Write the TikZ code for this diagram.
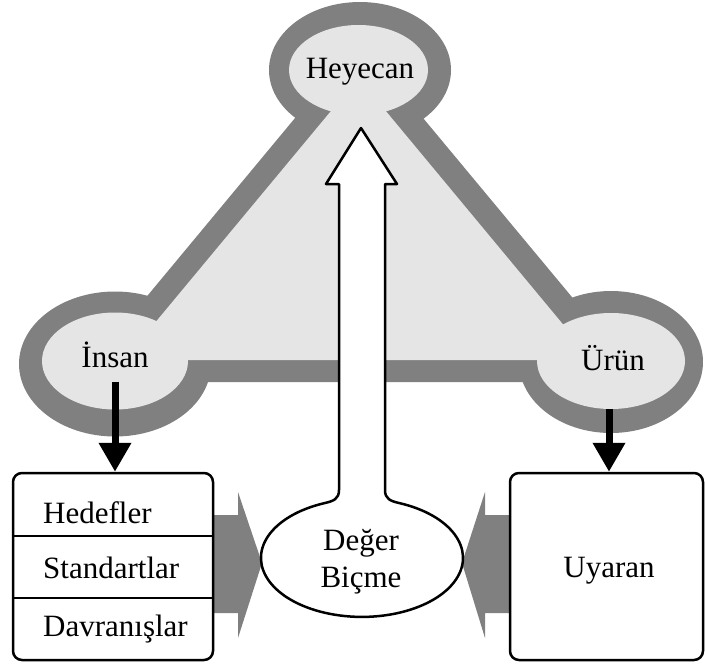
\documentclass[tikz,border=0pt]{standalone}
\usepackage{fontspec}
\setmainfont{Liberation Serif}
\usetikzlibrary{shapes.geometric,arrows.meta,positioning}

\tikzset{
  ring/.style={ellipse, fill=black!50, inner sep=0pt},
  core/.style={ellipse, fill=black!10, inner sep=0pt},
  txt/.style={font=\fontsize{31}{37}\selectfont, inner sep=0pt},
  box/.style={draw, fill=white, line width=2.5pt, rounded corners=9pt, inner sep=0pt},
  drop/.style={line width=7pt, -{Triangle[width=31pt,length=29pt]}},
  block/.style={fill=black!50},
  outl/.style={draw, fill=white, line width=2.5pt, line join=round}
}

\begin{document}
\begin{tikzpicture}[x=1pt, y=-1pt]
\useasboundingbox (0,0) rectangle (705,670);

% outer grey frame
\node[ring, minimum width=182pt, minimum height=136pt] (heyecanring) at (360,70) {};
\node[ring, minimum width=192pt, minimum height=145pt] (insanring) at (115,364) {};
\node[ring, minimum width=184pt, minimum height=142pt] (urunring) at (611,362) {};
\fill[black!50] (359,41) -- (75.8,382) -- (642.6,382) -- cycle;

% light inside
\node[core, minimum width=139pt, minimum height=90pt] (heyecancore) at (358.5,70) {};
\node[core, minimum width=146pt, minimum height=97pt] (insancore) at (115,361) {};
\node[core, minimum width=148pt, minimum height=96pt] (uruncore) at (611,361) {};
\fill[black!10] (358.4,78) -- (124.1,360) -- (592.6,360) -- cycle;

\node[txt, anchor=base] (heyecan) at (360,78) {Heyecan};
\node[txt, anchor=base] (insan) at (115,367) {İnsan};
\node[txt, anchor=base] (urun) at (613,370) {Ürün};

% grey arrows into the bulb
\fill[block] (213,515) -- (238,515) -- (238,492) -- (262,563) -- (238,638) -- (238,613) -- (213,613) -- cycle;
\fill[block] (510,515) -- (485,515) -- (485,492) -- (462,563) -- (485,638) -- (485,613) -- (510,613) -- cycle;

% boxes
\node[box, minimum width=200pt, minimum height=187pt] (lbox) at (113,566.5) {};
\draw[line width=2.5pt] (lbox.west |- 0,536) -- (lbox.east |- 0,536);
\draw[line width=2.5pt] (lbox.west |- 0,598) -- (lbox.east |- 0,598);
\node[txt, anchor=base west] (hedefler) at (43,523) {Hedefler};
\node[txt, anchor=base west] (standart) at (43,578) {Standartlar};
\node[txt, anchor=base west] (davranis) at (43,636) {Davranışlar};

\node[box, minimum width=193pt, minimum height=187pt] (rbox) at (606.5,566.5) {};
\node[txt, anchor=base] (uyaran) at (609,577) {Uyaran};

% black arrows
\draw[drop] ([yshift=-14pt]insan.south) -- (insan.south |- lbox.north);
\draw[drop] ([xshift=-2pt]uruncore.south) -- ([xshift=-2pt]uruncore.south |- rbox.north);

% white arrow with bulb
\draw[outl] (361,128) -- (397,184) -- (385,184) -- (385,490)
  .. controls (385,499) and (390.5,501) .. (399,503)
  arc[start angle=-68.5, end angle=248.5, x radius=101, y radius=59]
  .. controls (333.5,501) and (339,499) .. (339,490)
  -- (339,184) -- (326,184) -- cycle;
\node[txt, align=center] (deger) at (361,562) {Değer\\Biçme};
\end{tikzpicture}
\end{document}
